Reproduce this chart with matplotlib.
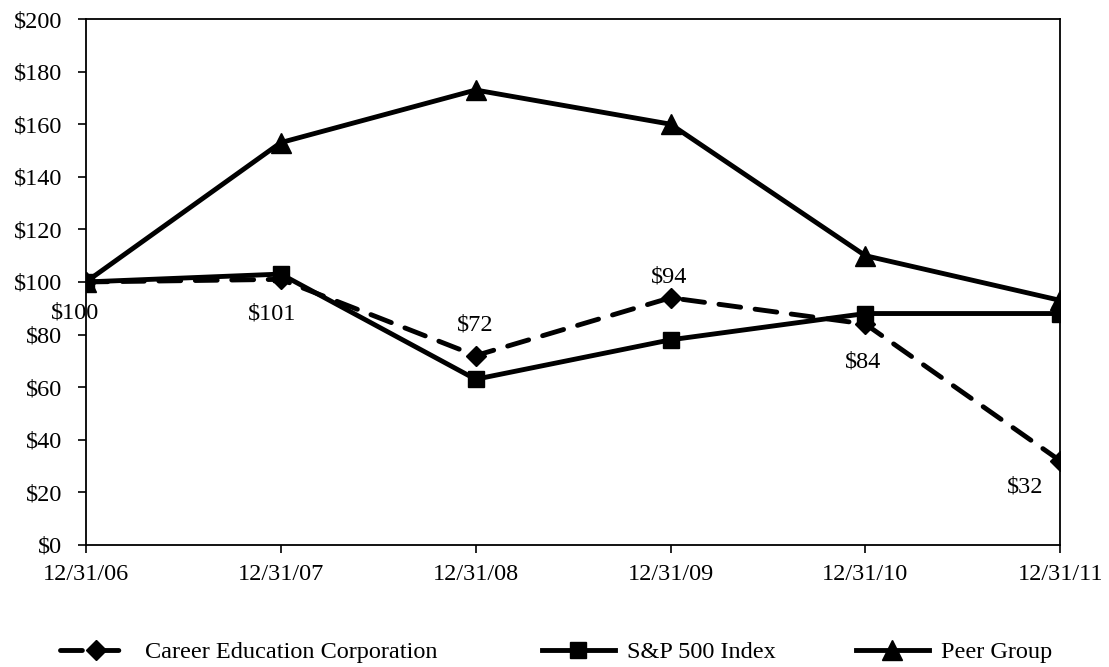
import matplotlib
matplotlib.use("Agg")
import matplotlib.pyplot as plt

plt.rcParams['font.family'] = ['Liberation Serif', 'DejaVu Serif']

dates = ['12/31/06', '12/31/07', '12/31/08', '12/31/09', '12/31/10', '12/31/11']
career = [100, 101, 72, 94, 84, 32]
sp500 = [100, 103, 63, 78, 88, 88]
peer = [100, 153, 173, 160, 110, 93]
career_labels = ['$100', '$101', '$72', '$94', '$84', '$32']
# label offsets in points relative to each career point
label_offsets = [(-8, -22), (-6, -25), (0, 22), (-1, 15), (-2, -27), (-25, -19)]

fs = 17.5
fig = plt.figure(figsize=(11.09, 6.67), dpi=100)
ax = fig.add_axes([0.0775, 0.183, 0.8785, 0.7885])

x = list(range(len(dates)))
h_peer, = ax.plot(x, peer, color='black', lw=3.5, marker='^', ms=14, label='Peer Group', zorder=2)
h_sp, = ax.plot(x, sp500, color='black', lw=3.5, marker='s', ms=12, label='S&P 500 Index', zorder=4)
h_car, = ax.plot(x, career, color='black', lw=3.5, marker='D', ms=10, dashes=(4.5, 3),
                 dash_capstyle='round', label='Career Education Corporation', zorder=3)

for i, (v, t) in enumerate(zip(career, career_labels)):
    ax.annotate(t, (x[i], v), xytext=label_offsets[i], textcoords='offset points',
                ha='center', va='center', fontsize=fs)

ax.set_xlim(0, 5)
ax.set_ylim(0, 200)
ax.set_xticks(x)
ax.set_xticklabels(dates)
ax.set_yticks(range(0, 201, 20))
ax.set_yticklabels(['$%d' % v for v in range(0, 201, 20)])
ax.tick_params(axis='both', direction='out', length=6, width=1.2, labelsize=fs, pad=8)
ax.tick_params(axis='y', pad=11)
for s in ax.spines.values():
    s.set_linewidth(1.3)

leg_kw = dict(loc='center left', frameon=False, fontsize=fs, handlelength=3.0, handletextpad=0.5)
fig.legend(handles=[h_car], bbox_to_anchor=(0.034, 0.022), **leg_kw)
fig.legend(handles=[h_sp], bbox_to_anchor=(0.469, 0.022), **leg_kw)
fig.legend(handles=[h_peer], bbox_to_anchor=(0.752, 0.022), **leg_kw)

fig.savefig('out.png', dpi=100)
